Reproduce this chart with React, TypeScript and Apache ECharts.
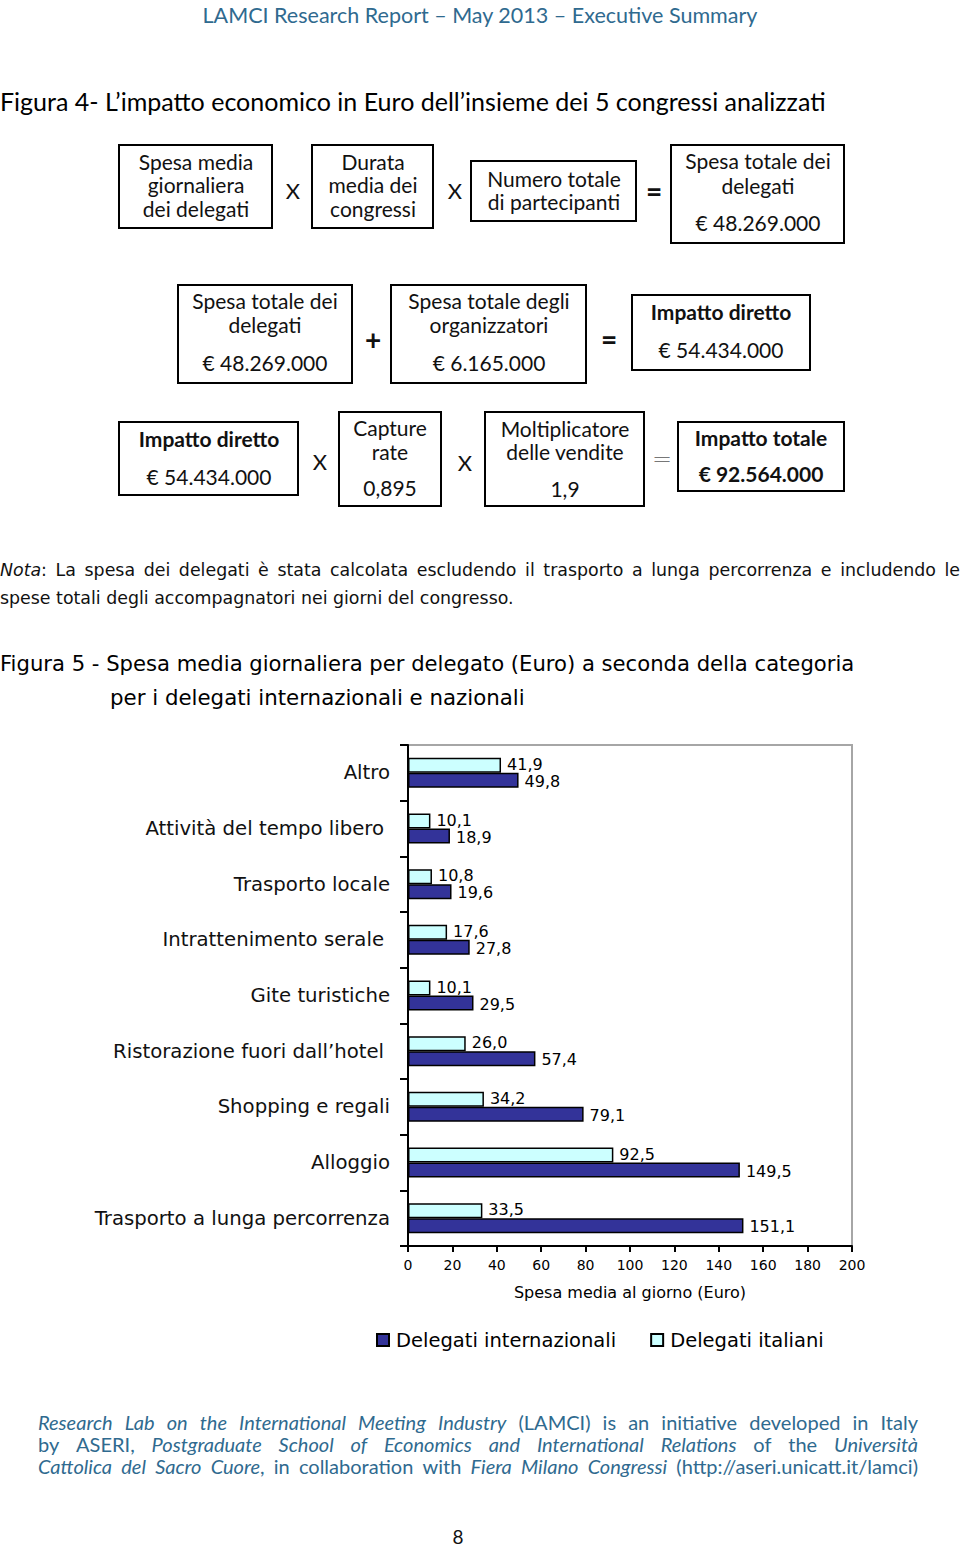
import React, { useEffect, useRef } from "react";
import * as echarts from "echarts";

// ---------- Chart data ----------
const categories = [
  "Trasporto a lunga percorrenza",
  "Alloggio",
  "Shopping e regali",
  "Ristorazione fuori dall’hotel",
  "Gite turistiche",
  "Intrattenimento serale",
  "Trasporto locale",
  "Attività del tempo libero",
  "Altro",
];
const internazionali = [151.1, 149.5, 79.1, 57.4, 29.5, 27.8, 19.6, 18.9, 49.8];
const italiani = [33.5, 92.5, 34.2, 26.0, 10.1, 17.6, 10.8, 10.1, 41.9];
const xMin = 0;
const xMax = 200;
const xInterval = 20;
const seriesNames = ["Delegati internazionali", "Delegati italiani"];

// ---------- Texts ----------
const headerText = "LAMCI Research Report – May 2013 – Executive Summary";
const fig4Title = "Figura 4- L’impatto economico in Euro dell’insieme dei 5 congressi analizzati";
const boxTexts = [
  ["Spesa media", "giornaliera", "dei delegati"],
  ["Durata", "media dei", "congressi"],
  ["Numero totale", "di partecipanti"],
  ["Spesa totale dei", "delegati", "€ 48.269.000"],
  ["Spesa totale dei", "delegati", "€ 48.269.000"],
  ["Spesa totale degli", "organizzatori", "€ 6.165.000"],
  ["Impatto diretto", "€ 54.434.000"],
  ["Impatto diretto", "€ 54.434.000"],
  ["Capture", "rate", "0,895"],
  ["Moltiplicatore", "delle vendite", "1,9"],
  ["Impatto totale", "€ 92.564.000"],
];
const operatorTexts = ["X", "X", "=", "+", "=", "X", "X", "="];
const notaLines = [
  "*Nota*: La spesa dei delegati è stata calcolata escludendo il trasporto a lunga percorrenza e includendo le",
  "spese totali degli accompagnatori nei giorni del congresso.",
];
const fig5Title = [
  "Figura 5 - Spesa media giornaliera per delegato (Euro) a seconda della categoria",
  "per i delegati internazionali e nazionali",
];
const xAxisName = "Spesa media al giorno (Euro)";
const footerLines = [
  "*Research Lab on the International Meeting Industry* (LAMCI) is an initiative developed in Italy",
  "by ASERI, *Postgraduate School of Economics and International Relations* of the *Università*",
  "*Cattolica del Sacro Cuore*, in collaboration with *Fiera Milano Congressi*  (http://aseri.unicatt.it/lamci)",
];
const pageNumber = "8";

// ---------- Layout (positions / styles) ----------
const boxLayout = [
  { x: 119, y: 145, w: 153, h: 83, cx: 196, ly: [161, 184, 208] },
  { x: 312, y: 145, w: 121, h: 83, cx: 373, ly: [161, 184, 208] },
  { x: 471, y: 161, w: 165, h: 60, cx: 554, ly: [178, 201] },
  { x: 671, y: 145, w: 173, h: 98, cx: 758, ly: [160, 185, 222] },
  { x: 178, y: 285, w: 174, h: 98, cx: 265, ly: [300, 324, 362] },
  { x: 391, y: 285, w: 195, h: 98, cx: 489, ly: [300, 324, 362] },
  { x: 632, y: 295, w: 178, h: 75, cx: 721, ly: [311, 349], bold: [true, false] },
  { x: 119, y: 422, w: 179, h: 73, cx: 209, ly: [438, 476], bold: [true, false] },
  { x: 339, y: 412, w: 102, h: 94, cx: 390, ly: [427, 451, 487] },
  { x: 485, y: 412, w: 159, h: 94, cx: 565, ly: [428, 451, 488] },
  { x: 678, y: 422, w: 166, h: 69, cx: 761, ly: [437, 473], bold: [true, true] },
];
const operatorLayout = [
  { x: 293, y: 190, size: 22 },
  { x: 455, y: 190, size: 22 },
  { x: 654, y: 191, size: 28, bold: true },
  { x: 373, y: 339, size: 28, bold: true },
  { x: 609, y: 339, size: 28, bold: true },
  { x: 320, y: 461, size: 22 },
  { x: 465, y: 462, size: 22 },
  { x: 662, y: 459, size: 24, light: true },
];
// category labels that sit a little further from the axis in the original
const indentedLabels = [3, 5, 7];

const NARROW = "Lato";
const WIDE = "DejaVu Sans";
const BLUE = "#2f6a8f";

let measureCtx: CanvasRenderingContext2D | null = null;
function measure(text: string, font: string): number {
  if (!measureCtx) measureCtx = document.createElement("canvas").getContext("2d");
  measureCtx!.font = font;
  return measureCtx!.measureText(text).width;
}
function fitSize(text: string, family: string, target: number): number {
  const base = 20;
  return (base * target) / measure(text, `${base}px "${family}"`);
}

function lineElements(
  line: string,
  x0: number,
  x1: number,
  y: number,
  fontSize: number,
  family: string,
  color: string,
  justify: boolean
): any[] {
  const pieces: { t: string; it: boolean }[] = [];
  let it = false;
  let buf = "";
  for (const ch of line) {
    if (ch === "*") {
      if (buf) pieces.push({ t: buf, it });
      buf = "";
      it = !it;
    } else buf += ch;
  }
  if (buf) pieces.push({ t: buf, it });
  const words: { t: string; it: boolean }[][] = [[]];
  for (const p of pieces) {
    const parts = p.t.split(" ");
    parts.forEach((part, i) => {
      if (i > 0) words.push([]);
      if (part) words[words.length - 1].push({ t: part, it: p.it });
    });
  }
  const ws = words.filter((w) => w.length);
  const font = (i: boolean) => `${i ? "italic " : ""}${fontSize}px "${family}"`;
  const widths = ws.map((w) => w.reduce((s, p) => s + measure(p.t, font(p.it)), 0));
  const total = widths.reduce((a, b) => a + b, 0);
  const space = measure(" ", font(false));
  const gap = justify && ws.length > 1 ? (x1 - x0 - total) / (ws.length - 1) : space;
  let x = x0;
  const els: any[] = [];
  ws.forEach((w) => {
    for (const p of w) {
      els.push({
        type: "text",
        x,
        y,
        style: {
          text: p.t,
          fontFamily: family,
          fontSize,
          fontStyle: p.it ? "italic" : "normal",
          fill: color,
          textAlign: "left",
          textVerticalAlign: "middle",
        },
      });
      x += measure(p.t, font(p.it));
    }
    x += gap;
  });
  return els;
}

function fmt(v: number): string {
  return v.toFixed(1).replace(".", ",");
}

export default function App() {
  const ref = useRef<HTMLDivElement>(null);
  useEffect(() => {
    if (!ref.current) return;
    const chart = echarts.init(ref.current, undefined, { renderer: "svg" });

    const graphics: any[] = [];
    graphics.push({
      type: "text",
      x: 480,
      y: 15,
      style: {
        text: headerText,
        fontFamily: NARROW,
        fontSize: fitSize(headerText, NARROW, 556),
        fill: BLUE,
        textAlign: "center",
        textVerticalAlign: "middle",
      },
    });
    graphics.push({
      type: "text",
      x: 0,
      y: 101,
      style: {
        text: fig4Title,
        fontFamily: NARROW,
        fontSize: fitSize(fig4Title, NARROW, 826),
        fill: "#000",
        textAlign: "left",
        textVerticalAlign: "middle",
      },
    });
    boxLayout.forEach((b, i) => {
      graphics.push({
        type: "rect",
        shape: { x: b.x, y: b.y, width: b.w, height: b.h },
        style: { fill: "#fff", stroke: "#000", lineWidth: 2 },
      });
      boxTexts[i].forEach((t, j) => {
        const bold = b.bold && b.bold[j];
        graphics.push({
          type: "text",
          x: b.cx,
          y: b.ly[j],
          style: {
            text: t,
            fontFamily: NARROW,
            fontSize: 21,
            fontWeight: bold ? "bold" : "normal",
            fill: "#111",
            textAlign: "center",
            textVerticalAlign: "middle",
          },
        });
      });
    });
    operatorLayout.forEach((o, i) => {
      graphics.push({
        type: "text",
        x: o.x,
        y: o.y,
        style: {
          text: operatorTexts[i],
          fontFamily: o.light ? WIDE : NARROW,
          fontSize: o.size,
          fontWeight: o.bold ? "bold" : o.light ? 200 : "normal",
          fill: o.light ? "#777" : "#111",
          textAlign: "center",
          textVerticalAlign: "middle",
        },
      });
    });
    graphics.push(...lineElements(notaLines[0], 0, 960, 570, 17.4, WIDE, "#111", true));
    graphics.push(...lineElements(notaLines[1], 0, 960, 598, 17.4, WIDE, "#111", false));
    graphics.push({
      type: "text",
      x: 0,
      y: 663,
      style: {
        text: fig5Title[0],
        fontFamily: WIDE,
        fontSize: fitSize(fig5Title[0], WIDE, 855),
        fill: "#000",
        textAlign: "left",
        textVerticalAlign: "middle",
      },
    });
    graphics.push({
      type: "text",
      x: 110,
      y: 697,
      style: {
        text: fig5Title[1],
        fontFamily: WIDE,
        fontSize: fitSize(fig5Title[1], WIDE, 415),
        fill: "#000",
        textAlign: "left",
        textVerticalAlign: "middle",
      },
    });
    const fy = [1422, 1444, 1466];
    footerLines.forEach((l, i) => {
      graphics.push(...lineElements(l, 38, 918, fy[i], 20, NARROW, BLUE, true));
    });
    graphics.push({
      type: "text",
      x: 458,
      y: 1536,
      style: { text: pageNumber, fontFamily: NARROW, fontSize: 19, fill: "#111", textAlign: "center", textVerticalAlign: "middle" },
    });

    const labelBase = {
      show: true,
      position: "right" as const,
      distance: 6,
      fontFamily: WIDE,
      fontSize: 16,
      color: "#000",
      formatter: (p: any) => fmt(p.value),
    };

    chart.setOption({
      animation: false,
      backgroundColor: "#fff",
      grid: {
        left: 408,
        right: 108,
        top: 745,
        bottom: 302,
        show: true,
        borderColor: "#a6a6a6",
        borderWidth: 2,
        backgroundColor: "transparent",
      },
      legend: {
        data: seriesNames,
        left: 376,
        top: 1330,
        padding: 0,
        icon: "rect",
        itemWidth: 12,
        itemHeight: 12,
        itemGap: 34,
        textStyle: { fontFamily: WIDE, fontSize: 19.5, color: "#000", padding: [0, 0, 0, 2] },
      },
      xAxis: {
        type: "value",
        min: xMin,
        max: xMax,
        interval: xInterval,
        axisLine: { show: true, lineStyle: { color: "#000", width: 2 } },
        axisTick: { show: true, length: 6, lineStyle: { color: "#000", width: 2 } },
        axisLabel: { fontFamily: WIDE, fontSize: 14, color: "#000", margin: 12 },
        splitLine: { show: false },
        name: xAxisName,
        nameLocation: "middle",
        nameGap: 38,
        nameTextStyle: { fontFamily: WIDE, fontSize: 16, color: "#000" },
      },
      yAxis: {
        type: "category",
        data: categories,
        axisLine: { show: true, lineStyle: { color: "#000", width: 2 } },
        axisTick: { show: true, length: 8, lineStyle: { color: "#000", width: 2 } },
        axisLabel: {
          fontFamily: WIDE,
          fontSize: 19.7,
          color: "#111",
          margin: 18,
          formatter: (v: string, idx: number) => (indentedLabels.includes(idx) ? `{p|${v}}` : v),
          rich: {
            p: { fontFamily: WIDE, fontSize: 19.7, color: "#111", padding: [0, 6, 0, 0] },
          },
        },
        splitLine: { show: false },
      },
      series: [
        {
          name: seriesNames[1],
          type: "bar",
          data: italiani,
          barWidth: 15,
          barGap: "0%",
          itemStyle: { color: "#ccffff", borderColor: "#000", borderWidth: 1.5 },
          label: { ...labelBase, offset: [0, -1] },
        },
        {
          name: seriesNames[0],
          type: "bar",
          data: internazionali,
          barWidth: 15,
          barGap: "0%",
          itemStyle: { color: "#333399", borderColor: "#000", borderWidth: 1.5 },
          label: { ...labelBase, offset: [0, 1] },
        },
      ],
      graphic: graphics,
    });
    return () => chart.dispose();
  }, []);
  return (
    <div
      ref={ref}
      style={{ position: "absolute", left: 0, top: 0, width: 960, height: 1548, background: "#fff" }}
    />
  );
}
